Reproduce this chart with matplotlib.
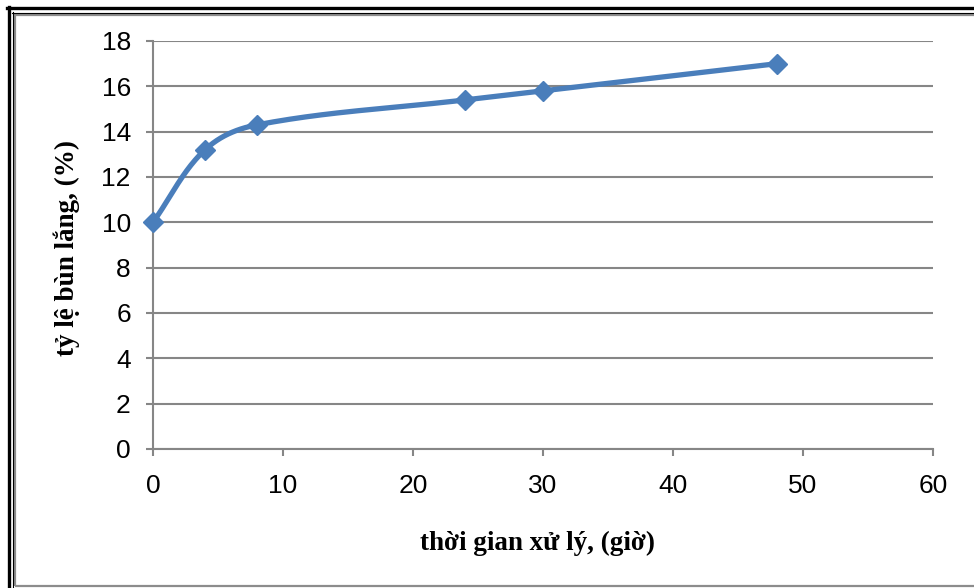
import numpy as np
import matplotlib.pyplot as plt
from matplotlib.lines import Line2D
from matplotlib.patches import Rectangle

# settling time (hours) vs. settled sludge ratio (%)
hours = [0, 4, 8, 24, 30, 48]
sludge_pct = [10, 13.2, 14.3, 15.4, 15.8, 17]
x_ticks = [0, 10, 20, 30, 40, 50, 60]
y_ticks = [0, 2, 4, 6, 8, 10, 12, 14, 16, 18]

BLUE = '#4a7ebb'
GRAY = '#868686'


def smooth_curve(xs, ys, sx, sy, k=0.35, n=40):
    # Bezier smoothing done in pixel-like space; handle length follows the segment length
    pts = np.column_stack([np.asarray(xs, float) * sx, np.asarray(ys, float) * sy])
    m = len(pts)
    tang = []
    for i in range(m):
        a = pts[max(i - 1, 0)]
        b = pts[min(i + 1, m - 1)]
        d = b - a
        tang.append(d / np.linalg.norm(d))
    out = []
    for i in range(m - 1):
        p1, p2 = pts[i], pts[i + 1]
        L = np.linalg.norm(p2 - p1)
        c1 = p1 + tang[i] * L * k
        c2 = p2 - tang[i + 1] * L * k
        t = np.linspace(0, 1, n)[:, None]
        seg = ((1 - t) ** 3) * p1 + 3 * ((1 - t) ** 2) * t * c1 + 3 * (1 - t) * t ** 2 * c2 + t ** 3 * p2
        out.append(seg if i == 0 else seg[1:])
    curve = np.vstack(out)
    return curve[:, 0] / sx, curve[:, 1] / sy


fig = plt.figure(figsize=(9.74, 5.88), dpi=100)
ax = fig.add_axes([153 / 974, 1 - 449 / 588, 780 / 974, 408 / 588])

cx, cy = smooth_curve(hours, sludge_pct, 780 / 60, 408 / 18)
ax.plot(cx, cy, color=BLUE, lw=3.8, solid_capstyle='round', zorder=3)
ax.plot(hours, sludge_pct, linestyle='none', marker='D', markersize=10,
        color=BLUE, markeredgecolor=BLUE, zorder=4, clip_on=False)

ax.set_xlim(0, 60)
ax.set_ylim(0, 18)
ax.set_xticks(x_ticks)
ax.set_yticks(y_ticks)
ax.yaxis.grid(True, color=GRAY, lw=1.5)
ax.set_axisbelow(True)

for side in ['top', 'right']:
    ax.spines[side].set_visible(False)
for side in ['left', 'bottom']:
    ax.spines[side].set_color(GRAY)
    ax.spines[side].set_linewidth(1.5)

ax.tick_params(axis='both', direction='out', color=GRAY, width=1.5, length=5,
               labelsize=19, labelcolor='black')
ax.tick_params(axis='y', pad=11)
ax.tick_params(axis='x', pad=13)
for lbl in ax.get_xticklabels() + ax.get_yticklabels():
    lbl.set_fontfamily('Liberation Sans')

fig.text(537 / 974, 1 - 543 / 588, 'thời gian xử lý, (giờ)', ha='center', va='center',
         fontsize=19.5, fontweight='bold', family='Liberation Serif')
fig.text(67 / 974, 1 - 248 / 588, 'tỷ lệ bùn lắng, (%)', ha='center', va='center',
         rotation=90, fontsize=19.5, fontweight='bold', family='Liberation Serif')

# double frame around the chart
fig.add_artist(Line2D([8.5 / 974, 8.5 / 974], [0, 1 - 7 / 588], transform=fig.transFigure,
                      color='black', lw=2.4))
fig.add_artist(Line2D([7 / 974, 1], [1 - 8 / 588, 1 - 8 / 588], transform=fig.transFigure,
                      color='black', lw=2.4))
fig.add_artist(Line2D([12.5 / 974, 12.5 / 974], [0, 1 - 12 / 588], transform=fig.transFigure,
                      color='black', lw=0.8))
fig.add_artist(Line2D([12 / 974, 1], [1 - 12.5 / 588, 1 - 12.5 / 588], transform=fig.transFigure,
                      color='black', lw=0.8))
fig.add_artist(Rectangle((15 / 974, 2 / 588), 1.0, 1 - 17 / 588, transform=fig.transFigure,
                         fill=False, edgecolor='#8c8c8c', lw=1.6))

plt.savefig('out.png', dpi=100)
